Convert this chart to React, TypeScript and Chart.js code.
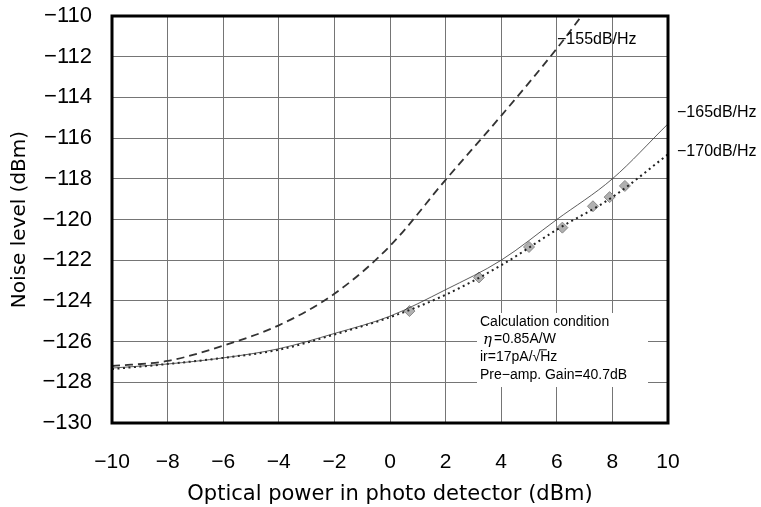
import React, { useEffect, useRef } from "react";
import { Chart, registerables } from "chart.js";

Chart.register(...registerables);

const xValues = [-10, -8, -6, -4, -2, 0, 2, 4, 6, 8, 10];
const series155X = [-10, -8, -6, -4, -2, 0, 2, 4, 6, 7];
const series155 = [-127.2, -126.95, -126.2, -125.2, -123.65, -121.3, -118.05, -114.9, -111.6, -109.8];
const series165 = [-127.3, -127.1, -126.8, -126.35, -125.6, -124.75, -123.45, -122.0, -120.0, -118.0, -115.3];
const series170 = [-127.35, -127.1, -126.8, -126.4, -125.65, -124.8, -123.7, -122.25, -120.5, -118.9, -116.8];
const measuredX = [0.7, 3.2, 5.0, 6.2, 7.3, 7.9, 8.45];
const measuredY = [-124.5, -122.85, -121.35, -120.4, -119.35, -118.9, -118.35];

const seriesLabels = ["−155dB/Hz", "−165dB/Hz", "−170dB/Hz"];
const conditionLines = ["Calculation condition", "η =0.85A/W", "ir=17pA/√Hz", "Pre−amp. Gain=40.7dB"];
const xTitle = "Optical power in photo detector (dBm)";
const yTitle = "Noise level (dBm)";

const pts = (xs: number[], ys: number[]) => ys.map((y, i) => ({ x: xs[i], y }));
const minus = (v: number) => (v < 0 ? "−" + Math.abs(v) : String(v));

const overlay = {
  id: "overlay",
  afterDatasetsDraw(chart: any) {
    const { ctx } = chart;
    ctx.save();
    const bx = 477, by = 313, bw = 171, bh = 74;
    ctx.fillStyle = "#fff";
    ctx.fillRect(bx, by, bw, bh);
    ctx.fillStyle = "#000";
    const f = "14px 'Liberation Sans', Arial, sans-serif";
    ctx.font = f;
    ctx.textBaseline = "middle";
    ctx.textAlign = "left";
    const lineY = [321.7, 339.3, 357.3, 375];
    const lineX = [480, 483, 480, 480];
    conditionLines.forEach((t, i) => {
      if (i === 1) {
        ctx.font = "italic 15px 'DejaVu Serif', serif";
        ctx.fillText("η", lineX[i], lineY[i] + 1);
        const w = ctx.measureText("η").width;
        ctx.font = f;
        ctx.fillText(t.slice(2), lineX[i] + w + 2, lineY[i]);
      } else {
        ctx.fillText(t, lineX[i], lineY[i]);
      }
      if (i === 2) {
        const pre = ctx.measureText("ir=17pA/√").width;
        const hz = ctx.measureText("Hz").width;
        const sx = lineX[i] + pre - 1;
        ctx.strokeStyle = "#000";
        ctx.lineWidth = 1;
        ctx.beginPath();
        ctx.moveTo(sx, lineY[i] - 7.5);
        ctx.lineTo(sx + hz * 0.45, lineY[i] - 7.5);
        ctx.stroke();
      }
    });
    ctx.restore();
  },
  afterDraw(chart: any) {
    const { ctx, chartArea: a } = chart;
    ctx.save();
    ctx.strokeStyle = "#000";
    ctx.lineWidth = 3;
    ctx.strokeRect(a.left, a.top, a.right - a.left, a.bottom - a.top);
    ctx.font = "16px 'Liberation Sans', Arial, sans-serif";
    ctx.textBaseline = "middle";
    ctx.textAlign = "left";
    ctx.fillStyle = "#000";
    ctx.fillText(seriesLabels[0], 557, 40);
    ctx.fillText(seriesLabels[1], 677, 113);
    ctx.fillText(seriesLabels[2], 677, 152);
    ctx.restore();
  },
};

export default function App() {
  const ref = useRef<HTMLCanvasElement>(null);
  useEffect(() => {
    const canvas = ref.current;
    if (!canvas) return;
    const chart = new Chart(canvas, {
      type: "scatter",
      data: {
        datasets: [
          {
            label: seriesLabels[0],
            data: pts(series155X, series155),
            showLine: true,
            borderColor: "#333",
            borderWidth: 1.8,
            borderDash: [8, 5],
            pointRadius: 0,
            cubicInterpolationMode: "monotone",
          },
          {
            label: seriesLabels[1],
            data: pts(xValues, series165),
            showLine: true,
            borderColor: "#333",
            borderWidth: 0.8,
            pointRadius: 0,
            cubicInterpolationMode: "monotone",
          },
          {
            label: seriesLabels[2],
            data: pts(xValues, series170),
            showLine: true,
            borderColor: "#222",
            borderWidth: 2,
            borderDash: [2, 3.5],
            pointRadius: 0,
            cubicInterpolationMode: "monotone",
          },
          {
            label: "measured",
            data: pts(measuredX, measuredY),
            showLine: false,
            pointStyle: "rectRot",
            pointRadius: 5.5,
            backgroundColor: "#b0b0b0",
            borderColor: "#8a8a8a",
            borderWidth: 1,
          },
        ],
      },
      options: {
        responsive: false,
        animation: false,
        devicePixelRatio: 1,
        layout: { padding: { top: 16, right: 93, bottom: 0, left: 0 } },
        plugins: { legend: { display: false }, tooltip: { enabled: false } },
        scales: {
          x: {
            type: "linear",
            min: -10,
            max: 10,
            afterFit: (s: any) => {
              s.height = 84;
              s.paddingLeft = 0;
              s.paddingRight = 0;
            },
            grid: { color: "#757575", lineWidth: 1, drawTicks: false },
            border: { display: false },
            ticks: {
              stepSize: 2,
              padding: 27,
              color: "#000",
              font: { family: "'Liberation Sans', Arial, sans-serif", size: 21 },
              callback: (v: any) => minus(Number(v)),
              maxRotation: 0,
            },
            title: {
              display: true,
              text: xTitle,
              color: "#000",
              font: { family: "'DejaVu Sans', sans-serif", size: 21 },
              padding: { top: 0, bottom: 0 },
            },
          },
          y: {
            type: "linear",
            min: -130,
            max: -110,
            afterFit: (s: any) => {
              s.width = 112;
              s.paddingTop = 0;
              s.paddingBottom = 0;
            },
            grid: { color: "#757575", lineWidth: 1, drawTicks: false },
            border: { display: false },
            ticks: {
              stepSize: 2,
              padding: 20,
              color: "#000",
              font: { family: "'Liberation Sans', Arial, sans-serif", size: 22 },
              callback: (v: any) => minus(Number(v)),
            },
            title: {
              display: true,
              text: yTitle,
              color: "#000",
              font: { family: "'DejaVu Sans', sans-serif", size: 20 },
              padding: { top: 8, bottom: 0 },
            },
          },
        },
      },
      plugins: [overlay],
    } as any);
    return () => chart.destroy();
  }, []);
  return (
    <div style={{ position: "absolute", left: 0, top: 0, width: 761, height: 507, background: "#fff" }}>
      <canvas ref={ref} width={761} height={507} />
    </div>
  );
}
